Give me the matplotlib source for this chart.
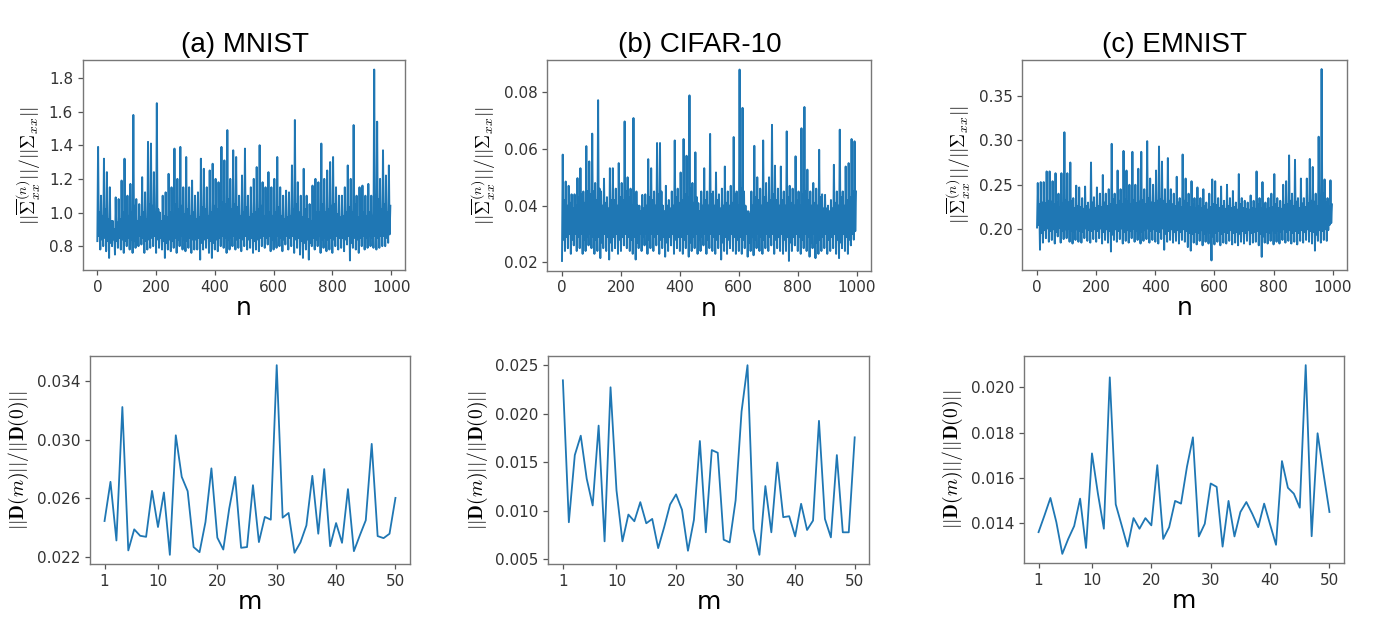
import numpy as np
import matplotlib
matplotlib.use('Agg')
import matplotlib.pyplot as plt

plt.rcParams['mathtext.fontset'] = 'cm'
plt.rcParams['font.family'] = ['DejaVu Sans']

# ---------------- data ----------------
titles = ['(a) MNIST', '(b) CIFAR-10', '(c) EMNIST']

# top row: per 10-sample bin of n, the highest value, the lowest value and the
# lower / upper edge of the dense band
mnist_peak = [1.39, 1.10, 1.32, 1.24, 1.15, 0.95, 1.09, 1.08, 1.19, 1.32,
              1.10, 1.17, 1.58, 1.08, 1.05, 1.21, 1.12, 1.42, 1.41, 1.24,
              1.65, 1.00, 1.10, 1.12, 1.23, 1.15, 1.38, 1.20, 1.39, 1.15,
              1.33, 1.15, 1.19, 1.10, 1.12, 1.32, 1.26, 1.15, 1.25, 1.29,
              1.20, 1.18, 1.39, 1.31, 1.49, 1.20, 1.37, 1.33, 1.10, 1.22,
              1.38, 1.10, 1.15, 1.20, 1.27, 1.40, 1.18, 1.15, 1.24, 1.15,
              1.20, 1.33, 1.15, 1.10, 1.13, 1.12, 1.28, 1.55, 1.18, 1.10,
              1.26, 1.10, 1.05, 1.16, 1.20, 1.18, 1.41, 1.20, 1.25, 1.30,
              1.33, 1.15, 1.10, 1.10, 1.15, 1.28, 1.20, 1.52, 1.10, 1.15,
              1.16, 1.10, 1.17, 1.10, 1.85, 1.54, 1.20, 1.37, 1.22, 1.28]
mnist_trough = [0.83, 0.78, 0.80, 0.77, 0.73, 0.80, 0.75, 0.79, 0.78, 0.76,
                0.80, 0.78, 0.76, 0.79, 0.80, 0.81, 0.76, 0.78, 0.79, 0.80,
                0.76, 0.79, 0.78, 0.73, 0.78, 0.77, 0.79, 0.76, 0.80, 0.78,
                0.77, 0.79, 0.76, 0.78, 0.78, 0.72, 0.78, 0.79, 0.76, 0.73,
                0.78, 0.77, 0.80, 0.79, 0.76, 0.78, 0.80, 0.78, 0.79, 0.77,
                0.80, 0.78, 0.79, 0.76, 0.78, 0.77, 0.80, 0.79, 0.81, 0.77,
                0.78, 0.79, 0.80, 0.77, 0.81, 0.78, 0.80, 0.76, 0.79, 0.75,
                0.73, 0.78, 0.72, 0.80, 0.78, 0.80, 0.76, 0.79, 0.77, 0.78,
                0.76, 0.80, 0.78, 0.79, 0.77, 0.81, 0.715, 0.79, 0.78, 0.76,
                0.80, 0.78, 0.79, 0.80, 0.79, 0.78, 0.79, 0.80, 0.80, 0.82]
mnist_band_lo = [0.86, 0.84, 0.85, 0.83, 0.82, 0.84, 0.83, 0.85, 0.84, 0.83,
                 0.85, 0.84, 0.83, 0.85, 0.86, 0.85, 0.83, 0.84, 0.85, 0.86,
                 0.84, 0.85, 0.83, 0.82, 0.84, 0.83, 0.85, 0.84, 0.86, 0.84,
                 0.83, 0.85, 0.84, 0.84, 0.85, 0.82, 0.84, 0.85, 0.83, 0.82,
                 0.84, 0.85, 0.86, 0.85, 0.84, 0.85, 0.86, 0.84, 0.85, 0.84,
                 0.86, 0.84, 0.85, 0.83, 0.84, 0.85, 0.86, 0.85, 0.86, 0.84,
                 0.85, 0.86, 0.85, 0.84, 0.86, 0.85, 0.86, 0.84, 0.85, 0.83,
                 0.82, 0.84, 0.82, 0.85, 0.84, 0.86, 0.84, 0.85, 0.84, 0.85,
                 0.84, 0.86, 0.85, 0.85, 0.84, 0.86, 0.82, 0.85, 0.84, 0.85,
                 0.86, 0.85, 0.86, 0.85, 0.86, 0.85, 0.86, 0.86, 0.85, 0.87]
mnist_band_hi = [1.00, 0.98, 1.02, 0.96, 0.95, 0.90, 0.94, 0.96, 1.00, 1.02,
                 0.98, 1.00, 1.04, 0.95, 0.97, 1.00, 0.96, 1.05, 1.04, 1.00,
                 1.02, 0.95, 0.98, 0.97, 1.00, 0.98, 1.05, 1.02, 1.04, 0.99,
                 1.02, 0.98, 1.00, 0.96, 0.97, 1.03, 1.02, 0.98, 1.00, 1.04,
                 1.02, 1.00, 1.06, 1.05, 1.08, 1.02, 1.05, 1.03, 0.98, 1.00,
                 1.03, 0.97, 0.99, 1.00, 1.02, 1.04, 0.98, 0.97, 1.00, 0.98,
                 1.00, 1.03, 0.98, 0.96, 0.97, 0.98, 1.02, 1.05, 1.00, 0.97,
                 1.02, 0.96, 0.95, 0.98, 1.00, 1.00, 1.05, 1.00, 1.02, 1.04,
                 1.05, 0.99, 0.97, 0.98, 1.00, 1.03, 1.00, 1.05, 0.97, 0.99,
                 1.00, 0.98, 1.00, 0.98, 1.10, 1.08, 1.02, 1.05, 1.00, 1.04]

cifar_peak = [0.058, 0.0485, 0.047, 0.044, 0.044, 0.0497, 0.0532, 0.045, 0.061, 0.0556,
              0.0654, 0.048, 0.0772, 0.045, 0.0495, 0.043, 0.0532, 0.0532, 0.046, 0.055,
              0.048, 0.0697, 0.050, 0.046, 0.0709, 0.045, 0.040, 0.0438, 0.044, 0.0564,
              0.0532, 0.045, 0.0621, 0.0621, 0.040, 0.047, 0.042, 0.045, 0.063, 0.046,
              0.0517, 0.0635, 0.0576, 0.0789, 0.048, 0.0588, 0.0409, 0.045, 0.0532, 0.045,
              0.0653, 0.045, 0.0517, 0.044, 0.046, 0.0538, 0.045, 0.047, 0.0642, 0.045,
              0.088, 0.0745, 0.040, 0.038, 0.045, 0.0611, 0.050, 0.046, 0.063, 0.048,
              0.050, 0.0685, 0.0541, 0.046, 0.0538, 0.045, 0.0662, 0.047, 0.046, 0.0574,
              0.045, 0.0673, 0.0748, 0.0527, 0.045, 0.048, 0.046, 0.0597, 0.044, 0.0438,
              0.040, 0.042, 0.0544, 0.045, 0.0668, 0.045, 0.0538, 0.055, 0.0635, 0.0627]
cifar_trough = [0.0205, 0.024, 0.025, 0.023, 0.026, 0.024, 0.025, 0.023, 0.024, 0.026,
                0.025, 0.023, 0.024, 0.0215, 0.025, 0.024, 0.021, 0.024, 0.025, 0.023,
                0.024, 0.026, 0.025, 0.024, 0.023, 0.021, 0.025, 0.024, 0.026, 0.023,
                0.025, 0.024, 0.026, 0.023, 0.025, 0.022, 0.024, 0.026, 0.023, 0.025,
                0.024, 0.023, 0.025, 0.022, 0.024, 0.025, 0.023, 0.024, 0.026, 0.023,
                0.025, 0.024, 0.023, 0.025, 0.021, 0.024, 0.023, 0.025, 0.024, 0.023,
                0.024, 0.023, 0.025, 0.022, 0.024, 0.0225, 0.025, 0.024, 0.023, 0.025,
                0.024, 0.026, 0.023, 0.025, 0.024, 0.023, 0.024, 0.0205, 0.024, 0.026,
                0.024, 0.023, 0.025, 0.024, 0.022, 0.025, 0.0215, 0.023, 0.024, 0.025,
                0.023, 0.024, 0.025, 0.023, 0.0215, 0.025, 0.024, 0.023, 0.026, 0.028]
cifar_band_lo = [0.028, 0.029, 0.030, 0.028, 0.030, 0.029, 0.030, 0.028, 0.029, 0.030,
                 0.029, 0.028, 0.029, 0.027, 0.030, 0.029, 0.027, 0.029, 0.030, 0.028,
                 0.029, 0.030, 0.029, 0.028, 0.029, 0.027, 0.030, 0.029, 0.030, 0.028,
                 0.030, 0.029, 0.030, 0.028, 0.029, 0.027, 0.029, 0.030, 0.028, 0.029,
                 0.029, 0.028, 0.030, 0.027, 0.029, 0.030, 0.028, 0.029, 0.030, 0.028,
                 0.030, 0.029, 0.028, 0.030, 0.027, 0.029, 0.028, 0.030, 0.029, 0.028,
                 0.029, 0.028, 0.030, 0.027, 0.029, 0.028, 0.030, 0.029, 0.028, 0.030,
                 0.029, 0.030, 0.028, 0.029, 0.030, 0.028, 0.029, 0.027, 0.029, 0.030,
                 0.029, 0.028, 0.030, 0.029, 0.027, 0.030, 0.027, 0.028, 0.029, 0.030,
                 0.028, 0.029, 0.030, 0.028, 0.027, 0.030, 0.029, 0.028, 0.030, 0.031]
cifar_band_hi = [0.042, 0.040, 0.041, 0.039, 0.040, 0.043, 0.044, 0.041, 0.045, 0.044,
                 0.045, 0.042, 0.046, 0.040, 0.041, 0.039, 0.042, 0.042, 0.040, 0.043,
                 0.042, 0.045, 0.043, 0.040, 0.044, 0.040, 0.038, 0.039, 0.040, 0.043,
                 0.042, 0.040, 0.044, 0.045, 0.038, 0.040, 0.039, 0.040, 0.043, 0.041,
                 0.042, 0.044, 0.043, 0.046, 0.041, 0.043, 0.038, 0.040, 0.042, 0.040,
                 0.044, 0.040, 0.042, 0.039, 0.040, 0.041, 0.040, 0.041, 0.044, 0.040,
                 0.046, 0.045, 0.038, 0.037, 0.040, 0.043, 0.042, 0.040, 0.043, 0.041,
                 0.042, 0.044, 0.042, 0.040, 0.042, 0.040, 0.043, 0.041, 0.040, 0.042,
                 0.040, 0.044, 0.045, 0.042, 0.040, 0.041, 0.040, 0.043, 0.039, 0.039,
                 0.038, 0.039, 0.041, 0.040, 0.043, 0.040, 0.042, 0.043, 0.045, 0.045]

emnist_peak = [0.252, 0.253, 0.253, 0.265, 0.265, 0.254, 0.263, 0.240, 0.263, 0.309,
               0.263, 0.275, 0.235, 0.249, 0.247, 0.235, 0.248, 0.230, 0.275, 0.236,
               0.247, 0.240, 0.261, 0.240, 0.245, 0.296, 0.240, 0.266, 0.245, 0.288,
               0.266, 0.250, 0.287, 0.250, 0.268, 0.287, 0.245, 0.299, 0.257, 0.250,
               0.266, 0.293, 0.276, 0.245, 0.280, 0.245, 0.240, 0.259, 0.235, 0.284,
               0.257, 0.240, 0.254, 0.235, 0.247, 0.235, 0.245, 0.230, 0.240, 0.256,
               0.254, 0.235, 0.248, 0.232, 0.250, 0.235, 0.243, 0.230, 0.262, 0.235,
               0.232, 0.230, 0.238, 0.232, 0.265, 0.235, 0.253, 0.230, 0.235, 0.240,
               0.262, 0.235, 0.232, 0.250, 0.254, 0.283, 0.240, 0.278, 0.235, 0.257,
               0.235, 0.257, 0.279, 0.270, 0.240, 0.304, 0.380, 0.256, 0.235, 0.255]
emnist_trough = [0.202, 0.177, 0.185, 0.190, 0.186, 0.188, 0.184, 0.192, 0.185, 0.189,
                 0.190, 0.186, 0.184, 0.188, 0.186, 0.185, 0.190, 0.187, 0.185, 0.189,
                 0.186, 0.190, 0.184, 0.188, 0.185, 0.175, 0.188, 0.186, 0.189, 0.184,
                 0.187, 0.185, 0.190, 0.186, 0.188, 0.184, 0.187, 0.189, 0.185, 0.188,
                 0.186, 0.184, 0.189, 0.177, 0.186, 0.188, 0.185, 0.187, 0.184, 0.188,
                 0.186, 0.180, 0.176, 0.185, 0.183, 0.187, 0.182, 0.186, 0.184, 0.165,
                 0.183, 0.186, 0.182, 0.185, 0.184, 0.187, 0.183, 0.185, 0.182, 0.186,
                 0.184, 0.187, 0.183, 0.185, 0.186, 0.182, 0.169, 0.185, 0.184, 0.187,
                 0.183, 0.186, 0.184, 0.188, 0.185, 0.187, 0.184, 0.186, 0.183, 0.187,
                 0.185, 0.188, 0.186, 0.184, 0.176, 0.187, 0.185, 0.188, 0.187, 0.205]
emnist_band_lo = [0.205, 0.196, 0.199, 0.201, 0.198, 0.200, 0.197, 0.202, 0.198, 0.200,
                  0.201, 0.198, 0.197, 0.200, 0.198, 0.197, 0.201, 0.199, 0.198, 0.200,
                  0.198, 0.201, 0.197, 0.200, 0.198, 0.194, 0.200, 0.198, 0.201, 0.197,
                  0.199, 0.198, 0.201, 0.198, 0.200, 0.197, 0.199, 0.201, 0.198, 0.200,
                  0.198, 0.197, 0.201, 0.195, 0.198, 0.200, 0.197, 0.199, 0.197, 0.200,
                  0.198, 0.196, 0.195, 0.197, 0.196, 0.199, 0.195, 0.198, 0.196, 0.192,
                  0.196, 0.198, 0.195, 0.197, 0.196, 0.199, 0.196, 0.197, 0.195, 0.198,
                  0.196, 0.199, 0.196, 0.197, 0.198, 0.195, 0.192, 0.197, 0.196, 0.199,
                  0.196, 0.198, 0.197, 0.200, 0.197, 0.199, 0.196, 0.198, 0.196, 0.199,
                  0.197, 0.200, 0.198, 0.197, 0.194, 0.199, 0.198, 0.200, 0.199, 0.207]
emnist_band_hi = [0.228, 0.230, 0.229, 0.232, 0.231, 0.228, 0.230, 0.225, 0.229, 0.233,
                  0.230, 0.232, 0.224, 0.226, 0.225, 0.223, 0.226, 0.222, 0.230, 0.224,
                  0.226, 0.225, 0.230, 0.226, 0.228, 0.234, 0.227, 0.232, 0.228, 0.234,
                  0.231, 0.228, 0.233, 0.229, 0.231, 0.233, 0.228, 0.235, 0.230, 0.229,
                  0.232, 0.234, 0.232, 0.228, 0.232, 0.228, 0.226, 0.230, 0.225, 0.232,
                  0.229, 0.225, 0.228, 0.224, 0.226, 0.224, 0.226, 0.222, 0.225, 0.228,
                  0.227, 0.224, 0.226, 0.223, 0.226, 0.224, 0.225, 0.222, 0.228, 0.224,
                  0.223, 0.222, 0.224, 0.223, 0.228, 0.224, 0.227, 0.222, 0.224, 0.225,
                  0.228, 0.224, 0.223, 0.227, 0.228, 0.232, 0.226, 0.231, 0.224, 0.229,
                  0.225, 0.229, 0.232, 0.231, 0.226, 0.236, 0.240, 0.230, 0.226, 0.228]

# bottom row: m = 1..50
m_vals = list(range(1, 51))
mnist_D = [0.02445, 0.02713, 0.02312, 0.03224, 0.02244, 0.02388, 0.02344, 0.02337, 0.02651, 0.02404,
           0.02640, 0.02214, 0.03031, 0.02747, 0.02649, 0.02267, 0.02232, 0.02438, 0.02805, 0.02331,
           0.02250, 0.02530, 0.02747, 0.02262, 0.02267, 0.02690, 0.02301, 0.02473, 0.02454, 0.03510,
           0.02468, 0.02500, 0.02228, 0.02299, 0.02415, 0.02754, 0.02358, 0.02800, 0.02273, 0.02431,
           0.02296, 0.02663, 0.02239, 0.02347, 0.02450, 0.02972, 0.02342, 0.02328, 0.02358, 0.02603]
cifar_D = [0.02344, 0.00881, 0.01573, 0.01773, 0.01330, 0.01054, 0.01877, 0.00684, 0.02272, 0.01210,
           0.00684, 0.00960, 0.00891, 0.01088, 0.00870, 0.00915, 0.00614, 0.00829, 0.01064, 0.01168,
           0.01009, 0.00587, 0.00905, 0.01718, 0.00777, 0.01625, 0.01597, 0.00701, 0.00673, 0.01106,
           0.02022, 0.02500, 0.00811, 0.00545, 0.01254, 0.00777, 0.01497, 0.00933, 0.00943, 0.00735,
           0.01071, 0.00801, 0.00898, 0.01926, 0.00915, 0.00725, 0.01573, 0.00777, 0.00777, 0.01756]
emnist_D = [0.01360, 0.01434, 0.01511, 0.01404, 0.01264, 0.01330, 0.01387, 0.01508, 0.01290, 0.01708,
            0.01530, 0.01375, 0.02044, 0.01483, 0.01390, 0.01296, 0.01422, 0.01375, 0.01422, 0.01390,
            0.01656, 0.01330, 0.01382, 0.01498, 0.01486, 0.01649, 0.01779, 0.01341, 0.01397, 0.01575,
            0.01560, 0.01296, 0.01498, 0.01341, 0.01449, 0.01493, 0.01441, 0.01382, 0.01486, 0.01394,
            0.01304, 0.01674, 0.01556, 0.01530, 0.01468, 0.02098, 0.01342, 0.01797, 0.01619, 0.01449]

top_yticks = [[0.8, 1.0, 1.2, 1.4, 1.6, 1.8],
              [0.02, 0.04, 0.06, 0.08],
              [0.20, 0.25, 0.30, 0.35]]
bot_yticks = [[0.022, 0.026, 0.030, 0.034],
              [0.005, 0.010, 0.015, 0.020, 0.025],
              [0.014, 0.016, 0.018, 0.020]]
m_ticks = [1, 10, 20, 30, 40, 50]
n_ticks = [0, 200, 400, 600, 800, 1000]

top_label = r'$||\overline{\mathbf{\Sigma}}_{xx}^{(n)}||/||\mathbf{\Sigma}_{xx}||$'
bot_label = r'$||\mathbf{D}(m)||/||\mathbf{D}(0)||$'

# ---------------- figure ----------------
W, H = 1378, 617
fig = plt.figure(figsize=(W / 100, H / 100), dpi=100)
BLUE = '#1f77b4'

top_rects = [(82.7, 60, 405, 270), (547.3, 60, 870.7, 270.5), (1022.3, 59.5, 1346.7, 270)]
bot_rects = [(90, 355.7, 410, 564.3), (548.3, 355.7, 869.3, 564.3), (1024, 355.7, 1344, 563.3)]


def rect(r):
    x0, y0, x1, y1 = r
    return [x0 / W, 1 - y1 / H, (x1 - x0) / W, (y1 - y0) / H]


def style(ax):
    for s in ax.spines.values():
        s.set_color('#777777')
        s.set_linewidth(1.0)
    ax.tick_params(labelsize=11, colors='#333333', length=3.5, width=0.9)
    ax.tick_params(axis='both', which='both', color='#555555')


peaks = [mnist_peak, cifar_peak, emnist_peak]
troughs = [mnist_trough, cifar_trough, emnist_trough]
band_los = [mnist_band_lo, cifar_band_lo, emnist_band_lo]
band_his = [mnist_band_hi, cifar_band_hi, emnist_band_hi]
Ds = [mnist_D, cifar_D, emnist_D]
title_x = [245, 700, 1175]

for i in range(3):
    ax = fig.add_axes(rect(top_rects[i]))
    vals = []
    for lo, hi, blo, bhi in zip(troughs[i], peaks[i], band_los[i], band_his[i]):
        vals.extend([lo, hi, blo, bhi])
    n = np.arange(len(vals)) * (1000 / len(vals))
    ax.plot(n, vals, color=BLUE, lw=1.4)
    ax.set_xticks(n_ticks)
    ax.set_yticks(top_yticks[i])
    ax.set_ylabel(top_label, fontsize=14)
    ax.set_xlabel('n', fontsize=18, labelpad=1)
    style(ax)

    ax2 = fig.add_axes(rect(bot_rects[i]))
    ax2.plot(m_vals, Ds[i], color=BLUE, lw=1.3)
    ax2.set_xticks(m_ticks)
    ax2.set_yticks(bot_yticks[i])
    ax2.set_ylabel(bot_label, fontsize=14)
    ax2.set_xlabel('m', fontsize=18, labelpad=1)
    style(ax2)

    fig.text(title_x[i] / W, 1 - 45 / H, titles[i], fontsize=20,
             family='Liberation Sans', ha='center', va='center')

fig.savefig('out.png', dpi=100)
